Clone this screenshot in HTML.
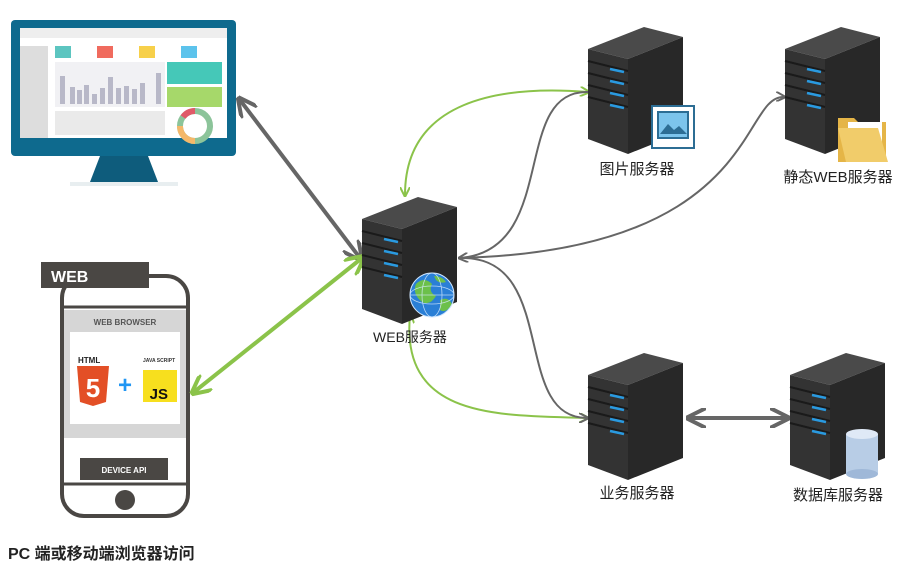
<!DOCTYPE html>
<html><head><meta charset="utf-8"><style>
body{margin:0;background:#fff;width:910px;height:568px;overflow:hidden;font-family:"Liberation Sans","Noto Sans CJK SC",sans-serif}
</style></head><body>
<svg width="910" height="568" viewBox="0 0 910 568" xmlns="http://www.w3.org/2000/svg" font-family="Liberation Sans, Noto Sans CJK SC, sans-serif">
<defs>
<g id="srv">
 <polygon points="0,22 56,0 95,10 40,32" fill="#4a4a4a"/>
 <polygon points="0,22 40,32 40,127 0,112" fill="#333"/>
 <polygon points="40,32 95,10 95,105 40,127" fill="#282828"/>
 <g stroke="#1a1a1a" stroke-width="2">
  <line x1="0" y1="34" x2="40" y2="44"/><line x1="0" y1="46" x2="40" y2="56"/><line x1="0" y1="58" x2="40" y2="68"/><line x1="0" y1="70" x2="40" y2="80"/>
 </g>
 <g stroke="#2a9ae0" stroke-width="2.5">
  <line x1="22" y1="42" x2="36" y2="45"/><line x1="22" y1="54" x2="36" y2="57"/><line x1="22" y1="66" x2="36" y2="69"/><line x1="22" y1="78" x2="36" y2="81"/>
 </g>
</g>
<marker id="ag" viewBox="0 0 10 10" refX="8" refY="5" markerWidth="5" markerHeight="5" orient="auto-start-reverse"><path d="M0,0 L10,5 L0,10" fill="none" stroke="#8bc34a" stroke-width="2"/></marker>
<marker id="ak" viewBox="0 0 10 10" refX="8" refY="5" markerWidth="5" markerHeight="5" orient="auto-start-reverse"><path d="M0,0 L10,5 L0,10" fill="none" stroke="#666" stroke-width="2"/></marker>
</defs>

<!-- monitor -->
<rect x="11" y="20" width="225" height="136" rx="4" fill="#0e6a8e"/>
<rect x="20" y="28" width="207" height="110" fill="#fff"/>
<rect x="20" y="28" width="207" height="10" fill="#eee"/>
<rect x="20" y="46" width="28" height="92" fill="#ddd"/>
<rect x="55" y="46" width="16" height="12" fill="#5cc5c0"/>
<rect x="97" y="46" width="16" height="12" fill="#f06b5e"/>
<rect x="139" y="46" width="16" height="12" fill="#f7d04a"/>
<rect x="181" y="46" width="16" height="12" fill="#5cc3ec"/>
<rect x="55" y="62" width="110" height="45" fill="#f1f1f4"/>
<g fill="#b8b8c8"><rect x="60" y="76" width="5" height="28"/><rect x="70" y="87" width="5" height="17"/><rect x="77" y="90" width="5" height="14"/><rect x="84" y="85" width="5" height="19"/><rect x="92" y="94" width="5" height="10"/><rect x="100" y="88" width="5" height="16"/><rect x="108" y="77" width="5" height="27"/><rect x="116" y="88" width="5" height="16"/><rect x="124" y="86" width="5" height="18"/><rect x="132" y="89" width="5" height="15"/><rect x="140" y="83" width="5" height="21"/><rect x="156" y="73" width="5" height="31"/></g>
<rect x="55" y="111" width="110" height="24" fill="#eaeaea"/>
<rect x="167" y="62" width="55" height="22" fill="#45c8b8"/>
<rect x="167" y="87" width="55" height="20" fill="#a6d86a"/>
<circle cx="195" cy="126" r="15" fill="none" stroke="#8cc49a" stroke-width="6"/>
<path d="M183,117 A15,15 0 0,1 195,111" fill="none" stroke="#e05a68" stroke-width="6"/>
<path d="M195,141 A15,15 0 0,1 180,126" fill="none" stroke="#f4b86a" stroke-width="6"/>
<polygon points="100,156 148,156 158,182 90,182" fill="#0e5c7c"/>
<rect x="70" y="182" width="108" height="4" fill="#e8eef0"/>

<!-- phone -->
<rect x="62" y="276" width="126" height="240" rx="22" fill="#fff" stroke="#4a4744" stroke-width="4"/>
<line x1="62" y1="307" x2="188" y2="307" stroke="#4a4744" stroke-width="3"/>
<rect x="41" y="262" width="108" height="26" fill="#4a4744"/>
<text x="51" y="282" fill="#fff" font-size="16" font-weight="bold">WEB</text>
<rect x="64" y="310" width="122" height="128" fill="#d6d6d6"/>
<text x="125" y="325" fill="#555" font-size="8" font-weight="bold" text-anchor="middle">WEB BROWSER</text>
<rect x="70" y="332" width="110" height="92" fill="#fff"/>
<text x="78" y="363" font-size="8" font-weight="bold" fill="#222">HTML</text>
<polygon points="77,366 109,366 106,402 93,406 80,402" fill="#e34f26"/>
<text x="93" y="397" font-size="26" font-weight="bold" fill="#fff" text-anchor="middle">5</text>
<text x="125" y="393" font-size="24" font-weight="bold" fill="#2196f3" text-anchor="middle">+</text>
<text x="143" y="362" font-size="5" font-weight="bold" fill="#333">JAVA SCRIPT</text>
<rect x="143" y="370" width="34" height="32" fill="#f7df1e"/>
<text x="168" y="399" font-size="15" font-weight="bold" fill="#111" text-anchor="end">JS</text>
<rect x="80" y="458" width="88" height="22" fill="#4a4744"/>
<text x="124" y="473" fill="#fff" font-size="8" font-weight="bold" text-anchor="middle">DEVICE API</text>
<line x1="62" y1="484" x2="188" y2="484" stroke="#4a4744" stroke-width="3"/>
<circle cx="125" cy="500" r="10" fill="#4a4744"/>
<text x="8" y="559" font-size="16" font-weight="bold" fill="#222">PC 端或移动端浏览器访问</text>

<!-- connectors -->
<line x1="240" y1="100" x2="360" y2="258" stroke="#666" stroke-width="4" marker-start="url(#ak)" marker-end="url(#ak)"/>
<line x1="194" y1="392" x2="362" y2="258" stroke="#8bc34a" stroke-width="4" marker-start="url(#ag)" marker-end="url(#ag)"/>
<line x1="690" y1="418" x2="786" y2="418" stroke="#666" stroke-width="4" marker-start="url(#ak)" marker-end="url(#ak)"/>
<path d="M405,195 C405,100 500,85 588,92" fill="none" stroke="#8bc34a" stroke-width="2" marker-start="url(#ag)" marker-end="url(#ag)"/>
<path d="M410,315 C400,420 500,415 587,418" fill="none" stroke="#8bc34a" stroke-width="2" marker-start="url(#ag)" marker-end="url(#ag)"/>
<path d="M460,258 C560,250 510,90 588,92" fill="none" stroke="#666" stroke-width="2" marker-start="url(#ak)"/>
<path d="M460,258 C560,255 510,418 587,418" fill="none" stroke="#666" stroke-width="2" marker-end="url(#ak)"/>
<path d="M460,258 C760,250 740,95 784,97" fill="none" stroke="#666" stroke-width="2" marker-end="url(#ak)"/>

<!-- servers -->
<use href="#srv" x="362" y="197"/>
<circle cx="432" cy="295" r="22" fill="#2a7fd6"/>
<path d="M416,284 q8,-8 16,0 q-4,8 4,12 q-6,10 -14,6 q-10,-8 -6,-18z M440,300 q8,-4 12,4 q-6,10 -12,6z M434,276 q8,0 12,6 q-6,2 -10,-2z" fill="#6cc04a"/>
<g fill="none" stroke="#d8ecff" stroke-width="0.8" opacity="0.8"><ellipse cx="432" cy="295" rx="10" ry="22"/><line x1="410" y1="295" x2="454" y2="295"/><ellipse cx="432" cy="295" rx="22" ry="9"/></g>
<circle cx="432" cy="295" r="22" fill="none" stroke="#cfe6ff" stroke-width="1"/>
<text x="410" y="342" font-size="14" fill="#222" text-anchor="middle">WEB服务器</text>

<use href="#srv" x="588" y="27"/>
<rect x="652" y="106" width="42" height="42" fill="#fff" stroke="#2c6d94" stroke-width="2"/>
<rect x="658" y="112" width="30" height="26" fill="#7cc4ec" stroke="#2c6d94" stroke-width="2"/>
<path d="M660,134 l8,-10 l6,6 l5,-4 l8,8z" fill="#2c6d94"/>
<text x="637" y="174" font-size="15" fill="#222" text-anchor="middle">图片服务器</text>

<use href="#srv" x="785" y="27"/>
<path d="M838,118 h16 l4,4 h28 v40 h-48z" fill="#e5b547"/>
<rect x="848" y="122" width="34" height="30" fill="#fff"/>
<polygon points="838,128 878,128 888,162 846,162" fill="#f1cc6a"/>
<text x="838" y="182" font-size="15" fill="#222" text-anchor="middle">静态WEB服务器</text>

<use href="#srv" x="588" y="353"/>
<text x="637" y="498" font-size="15" fill="#222" text-anchor="middle">业务服务器</text>

<use href="#srv" x="790" y="353"/>
<rect x="846" y="434" width="32" height="40" fill="#b8cde6"/>
<ellipse cx="862" cy="474" rx="16" ry="5" fill="#9fb8d8"/>
<ellipse cx="862" cy="434" rx="16" ry="5" fill="#dfe9f6"/>
<text x="838" y="500" font-size="15" fill="#222" text-anchor="middle">数据库服务器</text>
</svg>
</body></html>
